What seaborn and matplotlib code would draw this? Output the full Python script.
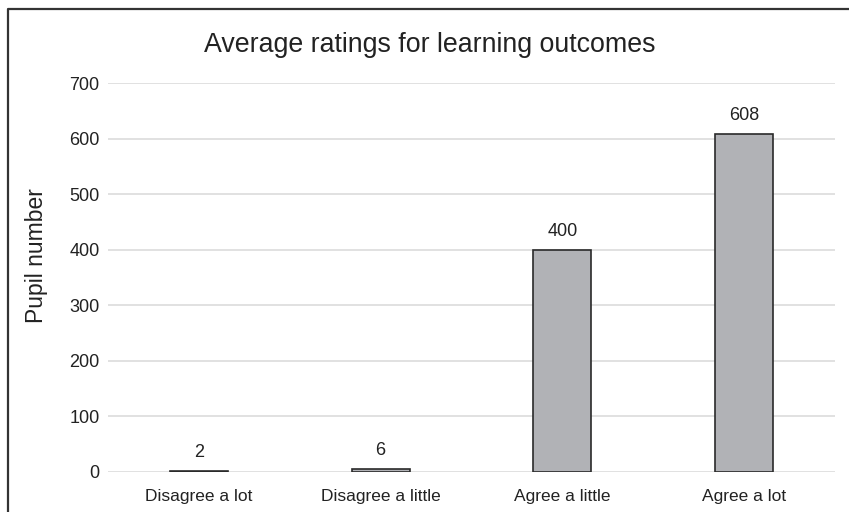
import matplotlib
matplotlib.use("Agg")
import matplotlib.pyplot as plt
import seaborn as sns
import pandas as pd
from matplotlib.lines import Line2D

categories = ["Disagree a lot", "Disagree a little", "Agree a little", "Agree a lot"]
pupils = [2, 6, 400, 608]
y_ticks = [0, 100, 200, 300, 400, 500, 600, 700]

sns.set_theme(style="white")
plt.rcParams["font.family"] = ["Liberation Sans", "DejaVu Sans"]

df = pd.DataFrame({"rating": categories, "pupils": pupils})

W, H = 849, 512
fig = plt.figure(figsize=(W / 100, H / 100), dpi=100)
ax = fig.add_axes([108 / W, 1 - 472 / H, (835 - 108) / W, (472 - 83) / H])

sns.barplot(data=df, x="rating", y="pupils", ax=ax, color="#b1b2b6",
            saturation=1, width=0.32, edgecolor="#2a2a2a", linewidth=1.2,
            zorder=3)

ax.set_ylim(0, 700)
ax.set_xlim(-0.5, 3.5)
ax.set_yticks(y_ticks)
ax.set_yticklabels([str(t) for t in y_ticks], fontsize=13, color="#222222")
ax.tick_params(axis="x", labelsize=12.5, colors="#222222", pad=12, length=0)
ax.tick_params(axis="y", pad=6, length=0)
ax.yaxis.grid(True, color="#dcdcdc", linewidth=1.2, zorder=0)
ax.xaxis.grid(False)
for s in ax.spines.values():
    s.set_visible(False)
ax.set_xlabel("")
ax.set_ylabel("")

fig.text(36 / W, 1 - 256 / H, "Pupil number", rotation=90,
         ha="center", va="center", fontsize=16.5, color="#222222")

for i, v in enumerate(pupils):
    ax.annotate(str(v), (i, v), xytext=(0, 7), textcoords="offset points",
                ha="center", va="bottom", fontsize=13, color="#222222")

fig.text(430 / W, 1 - 45 / H, "Average ratings for learning outcomes",
         ha="center", va="center", fontsize=19.3, color="#222222")

# outer frame along the top and left edges
fig.add_artist(Line2D([8 / W, 8 / W, 1.0], [0.0, 1 - 9 / H, 1 - 9 / H],
                      transform=fig.transFigure, color="#333333",
                      linewidth=1.6))

fig.savefig("out.png", dpi=100)
